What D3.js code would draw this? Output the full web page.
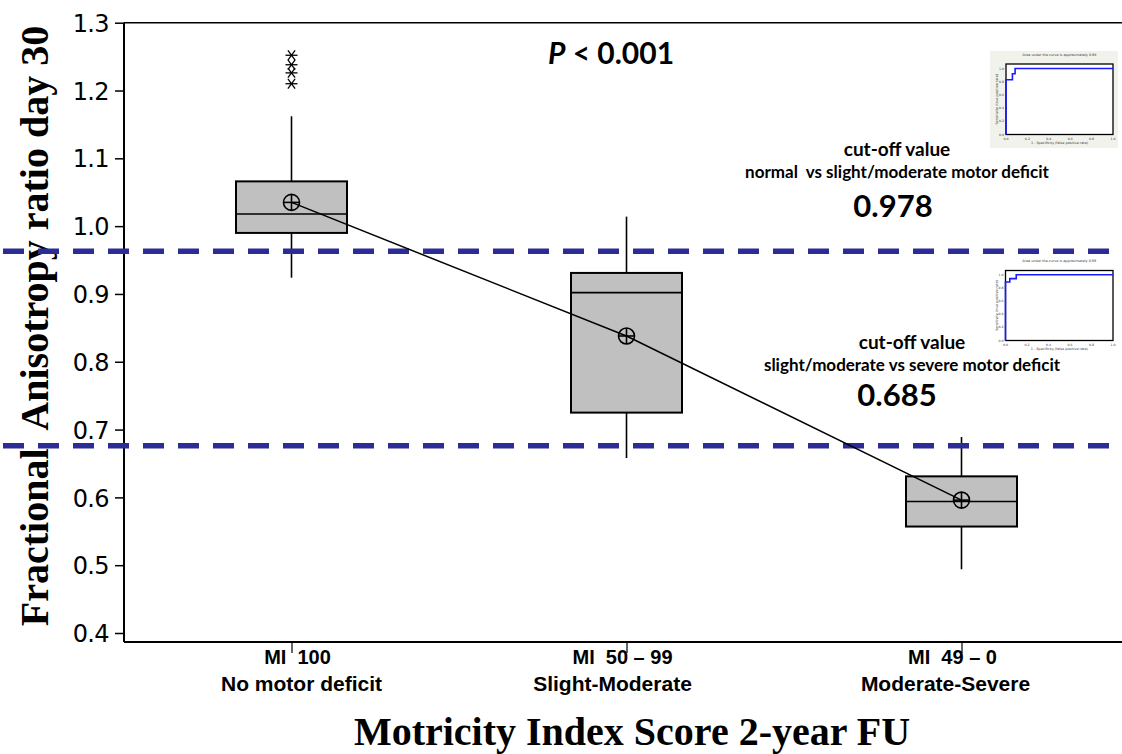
<!DOCTYPE html>
<html>
<head>
<meta charset="utf-8">
<script src="https://cdn.jsdelivr.net/npm/d3@7"></script>
<style>
  html, body { margin: 0; padding: 0; background: #fff; }
  svg { display: block; }
</style>
</head>
<body>
<svg id="chart" width="1122" height="754"></svg>
<script>
// ---------- data ----------
const categories = ["MI 100", "MI 50 – 99", "MI 49 – 0"];
const categorySubLabels = ["No motor deficit", "Slight-Moderate", "Moderate-Severe"];
const whiskerLow  = [0.924, 0.658, 0.494];
const q1Values    = [0.990, 0.725, 0.557];
const medianValues= [1.018, 0.902, 0.594];
const q3Values    = [1.066, 0.931, 0.631];
const whiskerHigh = [1.162, 1.014, 0.689];
const meanValues  = [1.035, 0.838, 0.596];
const outliersGroup1 = [1.252, 1.238, 1.226, 1.210];
const cutoffLines = [0.963, 0.676];
const cutoffValues = ["0.978", "0.685"];
const cutoffTitles = ["normal  vs slight/moderate motor deficit", "slight/moderate vs severe motor deficit"];
const yTicks = [0.4, 0.5, 0.6, 0.7, 0.8, 0.9, 1.0, 1.1, 1.2, 1.3];
// ROC inset curves (1 - specificity, sensitivity)
const roc1X = [0, 0, 0.06, 0.06, 0.085, 0.085, 1];
const roc1Y = [0, 0.83, 0.83, 0.92, 0.92, 1.0, 1.0];
const roc2X = [0, 0, 0.04, 0.04, 0.10, 0.10, 1];
const roc2Y = [0, 0.89, 0.89, 0.94, 0.94, 1.0, 1.0];
const rocTicks = [0, 0.2, 0.4, 0.6, 0.8, 1.0];

// ---------- layout ----------
const svg = d3.select("#chart");
const W = 1122, H = 754;
const plotLeft = 124, plotTop = 22.7, axisBottom = 642;
const labelShift1 = [6, -4, -9];
const labelShift2 = [10, -14, -16];

const x = d3.scalePoint().domain(categories).range([124, 1129]).padding(0.5);
const y = d3.scaleLinear().domain([0.4, 1.3]).range([633, 22.7]);
const boxW = 111;

const calibri = "Lato, 'Open Sans', sans-serif";
const serif = "'Liberation Serif', 'Times New Roman', serif";

// frame
svg.append("line").attr("x1", plotLeft).attr("x2", W).attr("y1", plotTop).attr("y2", plotTop)
  .attr("stroke", "#000").attr("stroke-width", 1.5);

// y axis
const yAxis = d3.axisLeft(y).tickValues(yTicks).tickFormat(d3.format(".1f")).tickSize(9).tickSizeOuter(0);
const gy = svg.append("g").attr("transform", `translate(${plotLeft},0)`).call(yAxis);
gy.select(".domain").remove();
gy.append("line").attr("x1", 0).attr("x2", 0).attr("y1", plotTop).attr("y2", axisBottom)
  .attr("stroke", "#000").attr("stroke-width", 2);
gy.selectAll(".tick line").attr("stroke", "#000").attr("stroke-width", 1.5);
gy.selectAll(".tick text").attr("font-family", "'DejaVu Sans', Verdana, sans-serif")
  .attr("font-size", 24).attr("fill", "#000").attr("dx", -3).attr("dy", "0.36em")
  .attr("letter-spacing", -0.6);

// x axis
const xAxis = d3.axisBottom(x).tickSize(11).tickSizeOuter(0).tickFormat("");
const gx = svg.append("g").attr("transform", `translate(0,${axisBottom})`).call(xAxis);
gx.select(".domain").remove();
gx.append("line").attr("x1", plotLeft).attr("x2", W).attr("y1", 0).attr("y2", 0)
  .attr("stroke", "#000").attr("stroke-width", 2);
gx.selectAll(".tick line").attr("stroke", "#000").attr("stroke-width", 1.2);

categories.forEach((c, i) => {
  svg.append("text").attr("x", x(c) + labelShift1[i]).attr("y", 664).attr("text-anchor", "middle")
    .attr("font-family", "'Liberation Sans', Arial, sans-serif").attr("font-weight", "bold")
    .attr("font-size", 20).attr("fill", "#000")
    .style("white-space", "pre")
    .text(c.replace("MI ", "MI  "));
  svg.append("text").attr("x", x(c) + labelShift2[i]).attr("y", 691).attr("text-anchor", "middle")
    .attr("font-family", "'Liberation Sans', Arial, sans-serif").attr("font-weight", "bold")
    .attr("font-size", 21).attr("fill", "#000")
    .text(categorySubLabels[i]);
});

// axis titles
svg.append("text").attr("x", 632).attr("y", 745).attr("text-anchor", "middle")
  .attr("font-family", serif).attr("font-weight", "bold").attr("font-size", 40).attr("fill", "#000")
  .text("Motricity Index Score 2-year FU");
svg.append("text").attr("transform", `translate(48,326) rotate(-90)`).attr("text-anchor", "middle")
  .attr("font-family", serif).attr("font-weight", "bold").attr("font-size", 40).attr("fill", "#000")
  .style("white-space", "pre")
  .text("Fractional  Anisotropy ratio day 30");

// boxes
categories.forEach((c, i) => {
  const cx = x(c);
  const g = svg.append("g");
  g.append("line").attr("x1", cx).attr("x2", cx).attr("y1", y(whiskerHigh[i])).attr("y2", y(q3Values[i]))
    .attr("stroke", "#000").attr("stroke-width", 1.6);
  g.append("line").attr("x1", cx).attr("x2", cx).attr("y1", y(q1Values[i])).attr("y2", y(whiskerLow[i]))
    .attr("stroke", "#000").attr("stroke-width", 1.6);
  g.append("rect").attr("x", cx - boxW / 2).attr("width", boxW)
    .attr("y", y(q3Values[i])).attr("height", y(q1Values[i]) - y(q3Values[i]))
    .attr("fill", "#c0c0c0").attr("stroke", "#000").attr("stroke-width", 2);
  g.append("line").attr("x1", cx - boxW / 2).attr("x2", cx + boxW / 2)
    .attr("y1", y(medianValues[i])).attr("y2", y(medianValues[i]))
    .attr("stroke", "#000").attr("stroke-width", 1.6);
});

// outliers (asterisks)
outliersGroup1.forEach(v => {
  const cx = x(categories[0]), cy = y(v), r = 6;
  const g = svg.append("g").attr("stroke", "#000").attr("stroke-width", 1.3);
  g.append("line").attr("x1", cx - r).attr("x2", cx + r).attr("y1", cy).attr("y2", cy);
  g.append("line").attr("x1", cx - r * 0.6).attr("x2", cx + r * 0.6).attr("y1", cy - r * 0.8).attr("y2", cy + r * 0.8);
  g.append("line").attr("x1", cx + r * 0.6).attr("x2", cx - r * 0.6).attr("y1", cy - r * 0.8).attr("y2", cy + r * 0.8);
});

// cut-off dashed lines
cutoffLines.forEach(v => {
  svg.append("line").attr("x1", 3).attr("x2", W).attr("y1", y(v)).attr("y2", y(v))
    .attr("stroke", "#2c2c96").attr("stroke-width", 5.5).attr("stroke-dasharray", "21,14");
});

// mean connect line
const meanLine = d3.line().x((d, i) => x(categories[i])).y(d => y(d));
svg.append("path").datum(meanValues).attr("d", meanLine)
  .attr("fill", "none").attr("stroke", "#000").attr("stroke-width", 1.5);
meanValues.forEach((v, i) => {
  const cx = x(categories[i]), cy = y(v), r = 8;
  const g = svg.append("g").attr("stroke", "#000").attr("stroke-width", 1.6);
  g.append("circle").attr("cx", cx).attr("cy", cy).attr("r", r).attr("fill", "none");
  g.append("line").attr("x1", cx - r).attr("x2", cx + r).attr("y1", cy).attr("y2", cy);
  g.append("line").attr("x1", cx).attr("x2", cx).attr("y1", cy - r).attr("y2", cy + r);
});

// P value
const pt = svg.append("text").attr("x", 611).attr("y", 64).attr("text-anchor", "middle")
  .attr("font-family", calibri).attr("font-weight", "bold").attr("font-size", 30).attr("fill", "#000");
pt.append("tspan").attr("font-style", "italic").text("P");
pt.append("tspan").text(" < 0.001");

// cut-off annotations
const annot = [
  {tx: 897, t1: 156, t2: 178, t3: 217},
  {tx: 912, t1: 349, t2: 371, t3: 406}
];
annot.forEach((a, i) => {
  svg.append("text").attr("x", a.tx).attr("y", a.t1).attr("text-anchor", "middle")
    .attr("font-family", calibri).attr("font-weight", "bold").attr("font-size", 19).attr("fill", "#000")
    .text("cut-off value");
  svg.append("text").attr("x", a.tx).attr("y", a.t2).attr("text-anchor", "middle")
    .attr("font-family", calibri).attr("font-weight", "bold").attr("font-size", 17).attr("fill", "#000")
    .style("white-space", "pre")
    .text(cutoffTitles[i]);
  svg.append("text").attr("x", a.tx - (i === 0 ? 4 : 15)).attr("y", a.t3).attr("text-anchor", "middle")
    .attr("font-family", calibri).attr("font-weight", "bold").attr("font-size", 31).attr("fill", "#000")
    .text(cutoffValues[i]);
});

// ROC insets
function roc(opts, xs, ys) {
  const g = svg.append("g");
  if (opts.bg) {
    g.append("rect").attr("x", opts.bx).attr("y", opts.by).attr("width", opts.bw).attr("height", opts.bh)
      .attr("fill", opts.bg);
  }
  const sx = d3.scaleLinear().domain([0, 1]).range([opts.x0, opts.x1]);
  const sy = d3.scaleLinear().domain([0, 1]).range([opts.y0, opts.y1]);
  g.append("rect").attr("x", opts.x0).attr("y", opts.fy).attr("width", opts.x1 - opts.x0)
    .attr("height", opts.y0 - opts.fy).attr("fill", "#fff").attr("stroke", "#000").attr("stroke-width", 1.3);
  const ln = d3.line().x((d, i) => sx(xs[i])).y(d => sy(d));
  g.append("path").datum(ys).attr("d", ln).attr("fill", "none").attr("stroke", "#1a1aff").attr("stroke-width", 1.6);
  const ff = "'DejaVu Sans', sans-serif";
  rocTicks.forEach(t => {
    g.append("text").attr("x", sx(t)).attr("y", opts.y0 + 5).attr("text-anchor", "middle")
      .attr("font-family", ff).attr("font-size", 3.2).attr("fill", "#333")
      .text(t.toFixed(1));
    g.append("text").attr("x", opts.x0 - 2).attr("y", sy(t) + 1).attr("text-anchor", "end")
      .attr("font-family", ff).attr("font-size", 3.2).attr("fill", "#333")
      .text(t.toFixed(1));
  });
  g.append("text").attr("x", (opts.x0 + opts.x1) / 2).attr("y", opts.y0 + 9).attr("text-anchor", "middle")
    .attr("font-family", ff).attr("font-size", 3.4).attr("fill", "#333")
    .text("1 - Specificity (false positive rate)");
  g.append("text").attr("transform", `translate(${opts.x0 - 8},${(opts.y0 + opts.fy) / 2}) rotate(-90)`)
    .attr("text-anchor", "middle")
    .attr("font-family", ff).attr("font-size", 3.4).attr("fill", "#333")
    .text("Sensitivity (true positive rate)");
  g.append("text").attr("x", (opts.x0 + opts.x1) / 2).attr("y", opts.ty).attr("text-anchor", "middle")
    .attr("font-family", ff).attr("font-size", 3.4).attr("fill", "#333")
    .text(opts.title);
}
roc({bg: "#f2f2ec", bx: 990, by: 51, bw: 128, bh: 97, x0: 1006, x1: 1113, y0: 134.5, y1: 68.5, fy: 64,
     ty: 56, title: "Area under the curve is approximately 0.98"}, roc1X, roc1Y);
roc({bg: null, x0: 1005.5, x1: 1113, y0: 340.5, y1: 274.7, fy: 270.5,
     ty: 262, title: "Area under the curve is approximately 0.99"}, roc2X, roc2Y);
</script>
</body>
</html>
